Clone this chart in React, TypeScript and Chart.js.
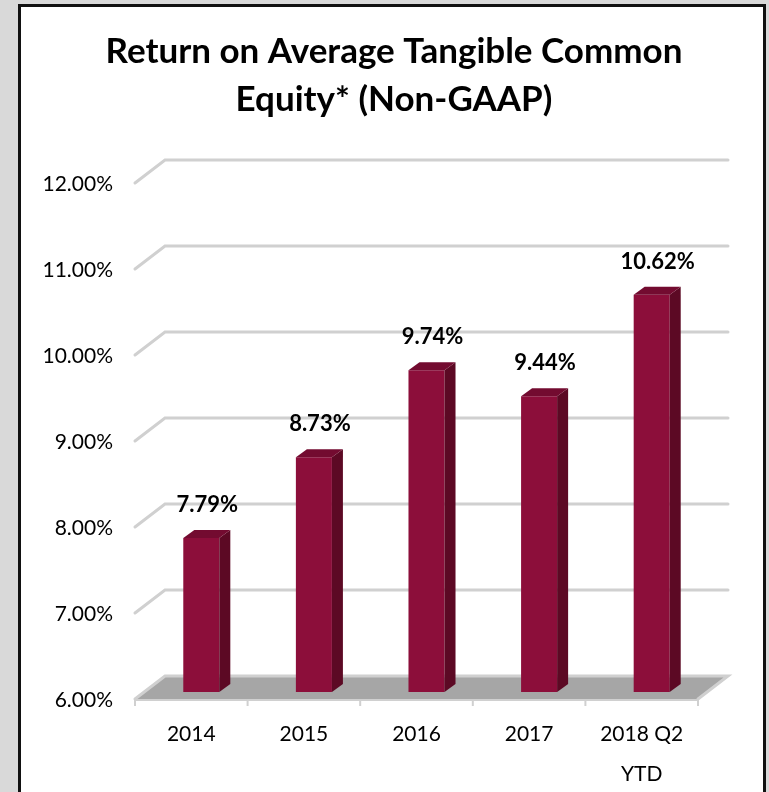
import React, { useEffect, useRef } from "react";
import { Chart, registerables } from "chart.js";

Chart.register(...registerables);

const categories: string[][] = [["2014"], ["2015"], ["2016"], ["2017"], ["2018 Q2", "YTD"]];
const values: number[] = [7.79, 8.73, 9.74, 9.44, 10.62];
const yTicks: number[] = [6, 7, 8, 9, 10, 11, 12];
const titleLines: string[] = ["Return on Average Tangible Common", "Equity* (Non-GAAP)"];

const FONT = "Lato, 'Open Sans', sans-serif";
const FRONT_C = "#8c0e3a";
const SIDE_C = "#5c0924";
const TOP_C = "#730b30";
const FLOOR_C = "#a6a6a6";
const GRID_C = "#d0d0d0";

// depth offsets relative to the bar plane
const FRONT = { dx: -10, dy: 7 };
const BACK = { dx: 20, dy: -16 };
const BAR_D = { dx: 11, dy: -8 };

const fmt = (v: number) => v.toFixed(2) + "%";

const threeD = {
  id: "threeD",
  beforeDatasetsDraw(chart: any) {
    const ctx = chart.ctx;
    const { left, right } = chart.chartArea;
    const y = chart.scales.y;
    const x = chart.scales.x;
    ctx.save();
    // floor
    const yb = y.getPixelForValue(yTicks[0]);
    ctx.fillStyle = FLOOR_C;
    ctx.beginPath();
    ctx.moveTo(left + BACK.dx, yb + BACK.dy);
    ctx.lineTo(right + BACK.dx, yb + BACK.dy);
    ctx.lineTo(right + FRONT.dx, yb + FRONT.dy);
    ctx.lineTo(left + FRONT.dx, yb + FRONT.dy);
    ctx.closePath();
    ctx.fill();
    // grid lines (back wall + left side wall edge)
    ctx.strokeStyle = GRID_C;
    ctx.lineWidth = 3;
    ctx.lineCap = "round";
    for (const t of yTicks) {
      const py = y.getPixelForValue(t);
      ctx.beginPath();
      ctx.moveTo(left + FRONT.dx, py + FRONT.dy);
      ctx.lineTo(left + BACK.dx, py + BACK.dy);
      ctx.lineTo(right + BACK.dx, py + BACK.dy);
      if (t === yTicks[0]) ctx.lineTo(right + FRONT.dx, py + FRONT.dy);
      ctx.stroke();
    }
    // front axis line + ticks
    ctx.lineWidth = 2;
    ctx.lineCap = "butt";
    ctx.beginPath();
    ctx.moveTo(left + FRONT.dx, yb + FRONT.dy + 1);
    ctx.lineTo(right + FRONT.dx, yb + FRONT.dy + 1);
    ctx.stroke();
    const n = categories.length;
    const w = (right - left) / n;
    for (let i = 0; i <= n; i++) {
      const px = left + i * w + FRONT.dx;
      ctx.beginPath();
      ctx.moveTo(px, yb + FRONT.dy);
      ctx.lineTo(px, yb + FRONT.dy + 7);
      ctx.stroke();
    }
    // y tick labels (front plane)
    ctx.fillStyle = "#000";
    ctx.font = `21px ${FONT}`;
    ctx.textAlign = "right";
    ctx.textBaseline = "middle";
    for (const t of yTicks) {
      const py = y.getPixelForValue(t);
      ctx.fillText(fmt(t), left + FRONT.dx - 22, py + FRONT.dy + 1);
    }
    // x labels
    ctx.textAlign = "center";
    ctx.font = `21px ${FONT}`;
    categories.forEach((lines, i) => {
      const px = x.getPixelForValue(i) + FRONT.dx;
      lines.forEach((s, j) => {
        ctx.fillText(s, px, yb + FRONT.dy + 35 + j * 40);
      });
    });
    // title
    ctx.font = `bold 35px ${FONT}`;
    titleLines.forEach((s, j) => {
      ctx.fillText(s, 394, 52 + j * 48);
    });
    ctx.restore();
  },
  afterDatasetsDraw(chart: any) {
    const ctx = chart.ctx;
    const meta = chart.getDatasetMeta(0);
    ctx.save();
    meta.data.forEach((bar: any, i: number) => {
      const { x, y, base, width } = bar.getProps(["x", "y", "base", "width"], true);
      const l = x - width / 2;
      const r = x + width / 2;
      ctx.fillStyle = SIDE_C;
      ctx.beginPath();
      ctx.moveTo(r, y);
      ctx.lineTo(r + BAR_D.dx, y + BAR_D.dy);
      ctx.lineTo(r + BAR_D.dx, base + BAR_D.dy);
      ctx.lineTo(r, base);
      ctx.closePath();
      ctx.fill();
      ctx.fillStyle = TOP_C;
      ctx.beginPath();
      ctx.moveTo(l, y);
      ctx.lineTo(l + BAR_D.dx, y + BAR_D.dy);
      ctx.lineTo(r + BAR_D.dx, y + BAR_D.dy);
      ctx.lineTo(r, y);
      ctx.closePath();
      ctx.fill();
      ctx.fillStyle = "#000";
      ctx.font = `bold 22px ${FONT}`;
      ctx.textAlign = "center";
      ctx.textBaseline = "middle";
      ctx.fillText(fmt(values[i]), x + 6, y - 33);
    });
    ctx.restore();
  },
};

export default function App() {
  const ref = useRef<HTMLCanvasElement | null>(null);
  useEffect(() => {
    if (!ref.current) return;
    const chart = new Chart(ref.current, {
      type: "bar",
      data: {
        labels: categories.map((c) => c.join(" ")),
        datasets: [
          {
            data: values,
            backgroundColor: FRONT_C,
            borderWidth: 0,
            categoryPercentage: 1,
            barPercentage: 0.32,
            base: yTicks[0],
          },
        ],
      },
      options: {
        responsive: false,
        animation: false,
        layout: { padding: { left: 145, right: 61, top: 176, bottom: 100 } },
        plugins: { legend: { display: false }, tooltip: { enabled: false }, title: { display: false } },
        scales: {
          x: { display: false },
          y: { display: false, min: yTicks[0], max: yTicks[yTicks.length - 1] },
        },
      },
      plugins: [threeD],
    });
    return () => chart.destroy();
  }, []);
  return (
    <div style={{ position: "fixed", left: 0, top: 0, width: 769, height: 792, background: "#d9d9d9", overflow: "hidden" }}>
      <div
        style={{
          position: "absolute",
          left: 18,
          top: 4,
          width: 748,
          height: 900,
          boxSizing: "border-box",
          border: "3px solid #111",
          background: "#fff",
        }}
      />
      <canvas ref={ref} width={769} height={792} style={{ position: "absolute", left: 0, top: 0 }} />
    </div>
  );
}
